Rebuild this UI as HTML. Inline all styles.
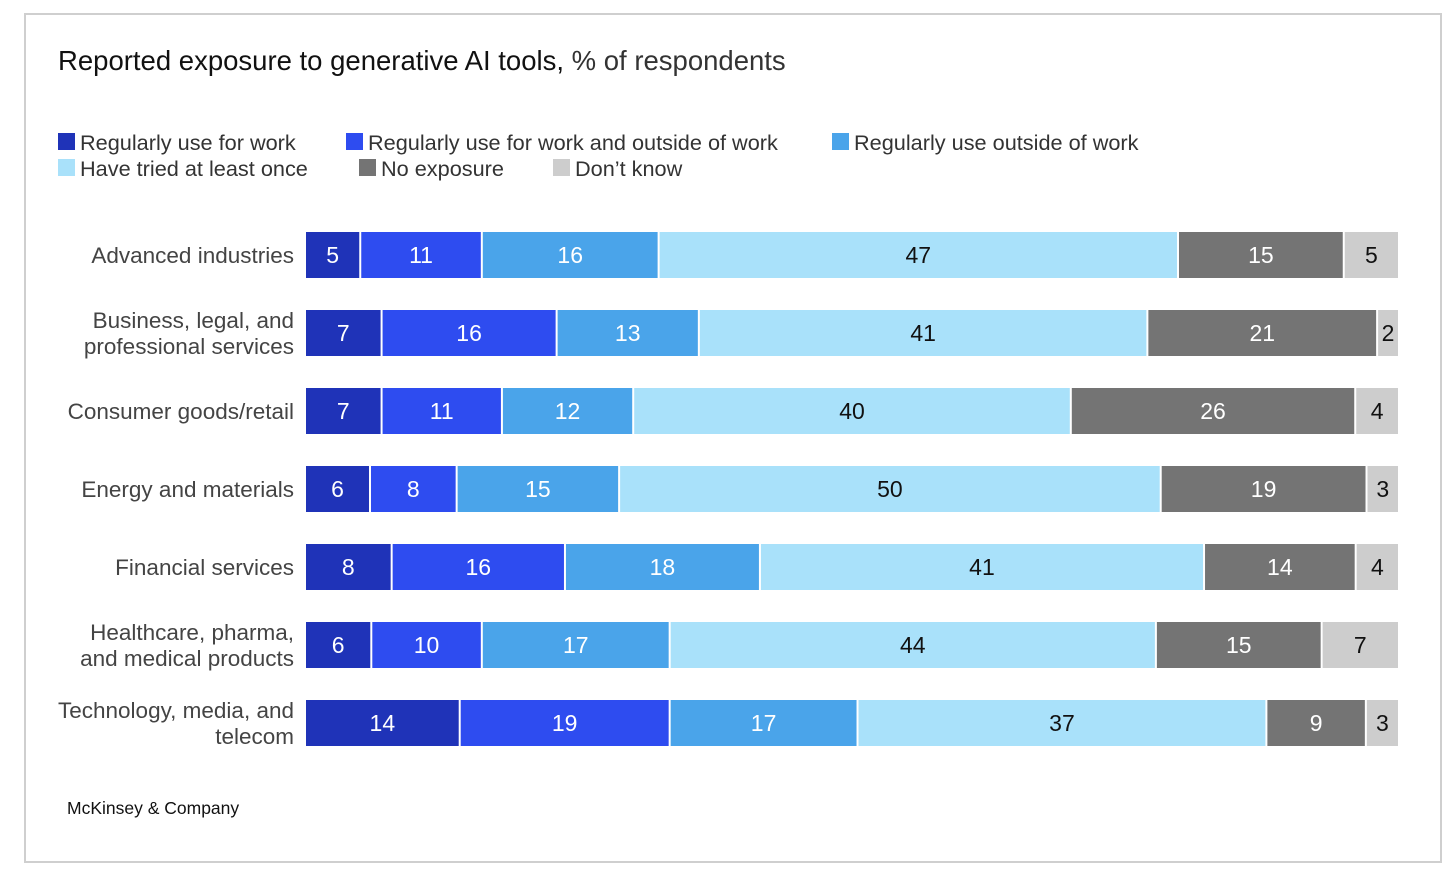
<!DOCTYPE html>
<html><head><meta charset="utf-8"><style>
body{margin:0;background:#fff;font-family:"Liberation Sans",sans-serif;}
#frame{position:absolute;left:24px;top:13px;width:1414px;height:846px;border:2px solid #cfcfcf;}
</style></head><body>
<div id="frame"></div>
<svg id="chart" width="1456" height="877" style="position:absolute;left:0;top:0">
<text x="58" y="70" font-size="27.5" fill="#111"><tspan>Reported exposure to generative AI tools,</tspan><tspan fill="#333"> % of respondents</tspan></text>
<text x="67" y="814" font-size="17.5" fill="#111">McKinsey &amp; Company</text>
<g id="legend"></g>
<g id="bars"></g>
</svg>
<script>
const categories=[["Advanced industries"],["Business, legal, and","professional services"],["Consumer goods/retail"],["Energy and materials"],["Financial services"],["Healthcare, pharma,","and medical products"],["Technology, media, and","telecom"]];
const seriesNames=["Regularly use for work","Regularly use for work and outside of work","Regularly use outside of work","Have tried at least once","No exposure","Don’t know"];
const useWork=[5,7,7,6,8,6,14];
const useBoth=[11,16,11,8,16,10,19];
const useOutside=[16,13,12,15,18,17,17];
const tried=[47,41,40,50,41,44,37];
const noExposure=[15,21,26,19,14,15,9];
const dontKnow=[5,2,4,3,4,7,3];
const series=[useWork,useBoth,useOutside,tried,noExposure,dontKnow];
const colors=["#1f33b8","#2e4cf0","#4aa4ea","#a9e1fa","#747474","#cdcdcd"];
const textColors=["#fff","#fff","#fff","#111","#fff","#111"];
const NS="http://www.w3.org/2000/svg";
const x0=306,x1=1400,rowTop=232,rowStep=78,barH=46;
function xScale(v,total){return x0+(x1-x0)*v/total;}
function yScale(i){return rowTop+i*rowStep;}
const bars=document.getElementById('bars');
categories.forEach((cat,i)=>{
  const vals=series.map(s=>s[i]);
  const total=vals.reduce((a,b)=>a+b,0);
  const y=yScale(i);
  const lab=document.createElementNS(NS,'text');
  
  
  lab.setAttribute('text-anchor','end');lab.setAttribute('font-size','22.5');lab.setAttribute('fill','#444');
  cat.forEach((line,k)=>{const t=document.createElementNS(NS,'tspan');t.setAttribute('x',294);
    t.setAttribute('y',y+barH/2+8+(k-(cat.length-1)/2)*26);t.textContent=line;lab.appendChild(t);});
  bars.appendChild(lab);
  let cum=0;
  vals.forEach((v,j)=>{
    const xa=xScale(cum,total),xb=xScale(cum+v,total);cum+=v;
    const r=document.createElementNS(NS,'rect');
    
    
    r.setAttribute('x',xa);r.setAttribute('y',y);r.setAttribute('width',Math.max(0,xb-xa-2));r.setAttribute('height',barH);r.setAttribute('fill',colors[j]);
    bars.appendChild(r);
    const t=document.createElementNS(NS,'text');
    
    
    t.setAttribute('x',(xa+xb-2)/2);t.setAttribute('y',y+barH/2+8);t.setAttribute('text-anchor','middle');
    t.setAttribute('font-size','23');t.setAttribute('fill',textColors[j]);t.textContent=v;
    bars.appendChild(t);
  });
});
const legend=document.getElementById('legend');
const legPos=[[58,142],[346,142],[832,142],[58,168],[359,168],[553,168]];
seriesNames.forEach((n,j)=>{
  const [lx,ly]=legPos[j];
  const r=document.createElementNS(NS,'rect');
  
  
  r.setAttribute('x',lx);r.setAttribute('y',ly-9);r.setAttribute('width',17);r.setAttribute('height',17);r.setAttribute('fill',colors[j]);
  legend.appendChild(r);
  const t=document.createElementNS(NS,'text');
  
  
  t.setAttribute('x',lx+22);t.setAttribute('y',ly+8);t.setAttribute('font-size','21.7');t.setAttribute('fill','#333');t.textContent=n;
  legend.appendChild(t);
});
</script>
</body></html>
